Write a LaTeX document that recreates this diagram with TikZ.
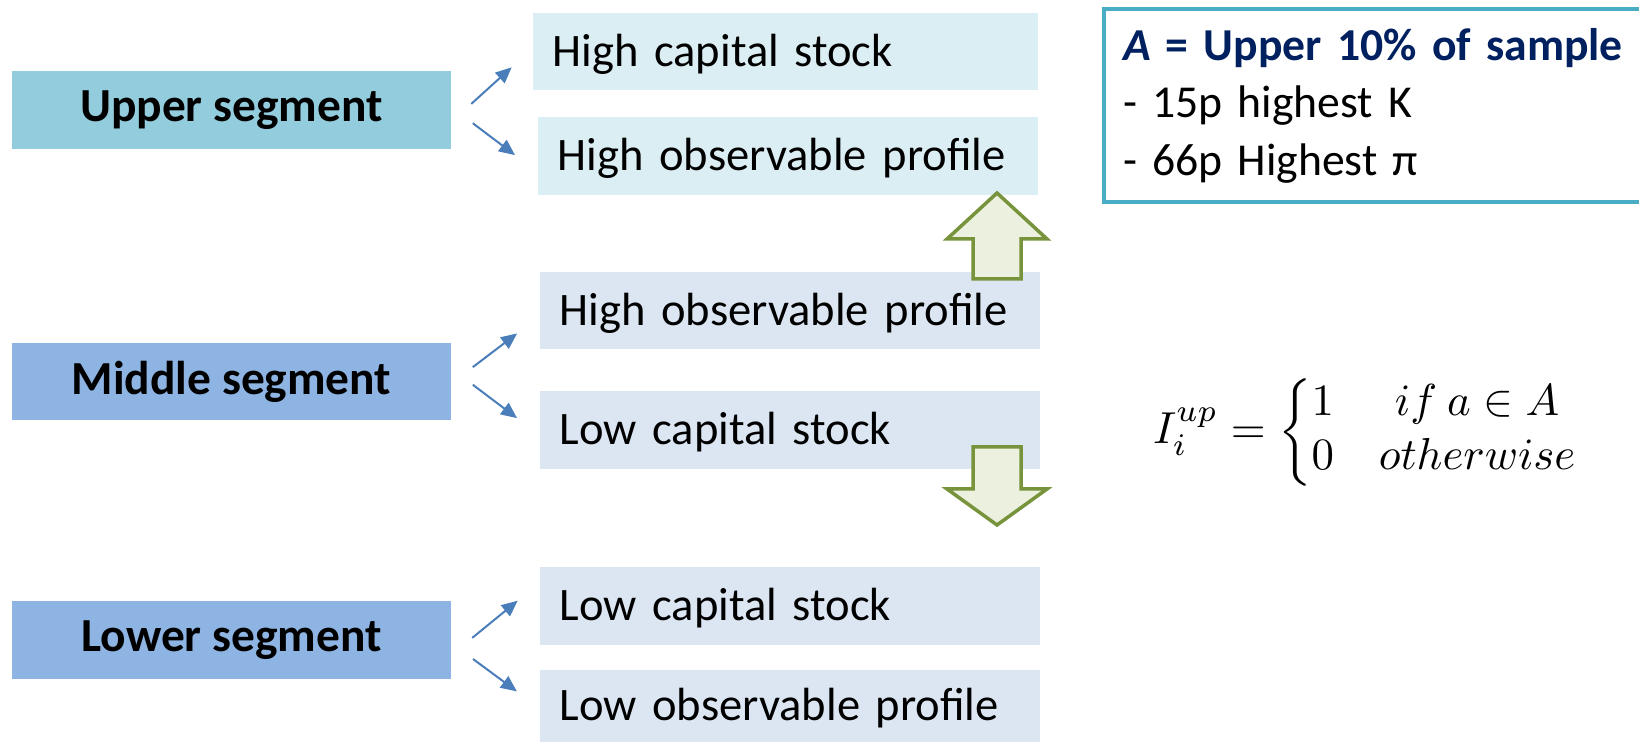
\documentclass[tikz,border=0pt]{standalone}
\usepackage[no-math]{fontspec}
\setmainfont{Carlito}
\usetikzlibrary{positioning, arrows.meta}
\definecolor{upfill}{HTML}{93CDDD}
\definecolor{segfill}{HTML}{8DB4E2}
\definecolor{upbox}{HTML}{DBEEF4}
\definecolor{lobox}{HTML}{DCE6F2}
\definecolor{linkblue}{HTML}{4A7EBB}
\definecolor{framecol}{HTML}{4BACC6}
\definecolor{navy}{HTML}{002060}
\definecolor{moveFill}{HTML}{EBF1DE}
\definecolor{moveLine}{HTML}{77933C}
\tikzset{
  seg/.style={minimum width=8.78cm, minimum height=1.56cm, font=\fontsize{27}{32}\selectfont\bfseries},
  trait/.style={anchor=east, text width=9.2cm, inner xsep=0.4cm, minimum height=1.55cm, align=left,
    text height=22pt, text depth=5pt, font=\fontsize{26.5}{32}\selectfont},
  link/.style={->, draw=linkblue, line width=0.04cm, shorten <=0.54cm, shorten >=0.56cm},
  bigarrow/.style={fill=moveFill, draw=moveLine, line width=0.07cm, line join=miter},
  >={Triangle[length=0.32cm, width=0.28cm]},
}
\begin{document}
\begin{tikzpicture}[x=0.02cm, y=-0.02cm]
  \useasboundingbox (0,0) rectangle (1639,742);
  \clip (0,0) rectangle (1639,742);
  % segments
  \node[seg, fill=upfill] (upper) at (231.5,110) {Upper segment};
  \node[seg, fill=segfill] (middle) at (231.5,381.5) {Middle segment};
  \node[seg, fill=segfill] (lower) at (231.5,640) {Lower segment};
  % traits of each segment
  \node[trait, fill=upbox, text width=9.3cm] (uhcap) at (1038,51.5) {High capital stock};
  \node[trait, fill=upbox] (uhobs) at (1038,156) {High observable profile};
  \node[trait, fill=lobox] (mhobs) at (1040,310.5) {High observable profile};
  \node[trait, fill=lobox] (mlcap) at (1040,430) {Low capital stock};
  \node[trait, fill=lobox] (llcap) at (1040,606) {Low capital stock};
  \node[trait, fill=lobox, minimum height=1.44cm] (llobs) at (1040,706) {Low observable profile};
  % links
  \draw[link] ([shift={(0,12)}]upper.east) -- ([shift={(0,-3)}]uhcap.west);
  \draw[link] ([shift={(0,-3)}]upper.east) -- ([shift={(0,16)}]uhobs.west);
  \draw[link] ([shift={(0,2)}]middle.east) -- ([shift={(0,6)}]mhobs.west);
  \draw[link] ([shift={(0,-13)}]middle.east) -- ([shift={(0,5)}]mlcap.west);
  \draw[link] ([shift={(0,15)}]lower.east) -- ([shift={(0,-23)}]llcap.west);
  \draw[link] ([shift={(0,3)}]lower.east) -- ([shift={(0,2)}]llobs.west);
  % moves between segments
  \draw[bigarrow] (997,193) -- (1047,239) -- (1021,239) -- (1021,279) -- (973,279) -- (973,239) -- (947,239) -- cycle;
  \draw[bigarrow] (997,525) -- (1047,489) -- (1021,489) -- (1021,447) -- (973,447) -- (973,489) -- (947,489) -- cycle;
  % definition of A
  \node[anchor=north west, draw=framecol, line width=0.08cm, text width=12cm, inner xsep=0.38cm,
    minimum height=3.86cm, align=left, font=\fontsize{26}{32.7}\selectfont] (defn) at (1102,7)
    {\textcolor{navy}{\textbf{\textit{A} = Upper 10\% of sample}}\\- 15p highest K\\- 66p Highest π};
  % indicator
  \node (indic) at (1367,432) {\scalebox{2.55}{%
    $I_i^{up} = \left\{\begin{array}{@{}l@{\quad}c@{}} 1 & if\ a \in A\\ 0 & otherwise\end{array}\right.$}};
\end{tikzpicture}
\end{document}
